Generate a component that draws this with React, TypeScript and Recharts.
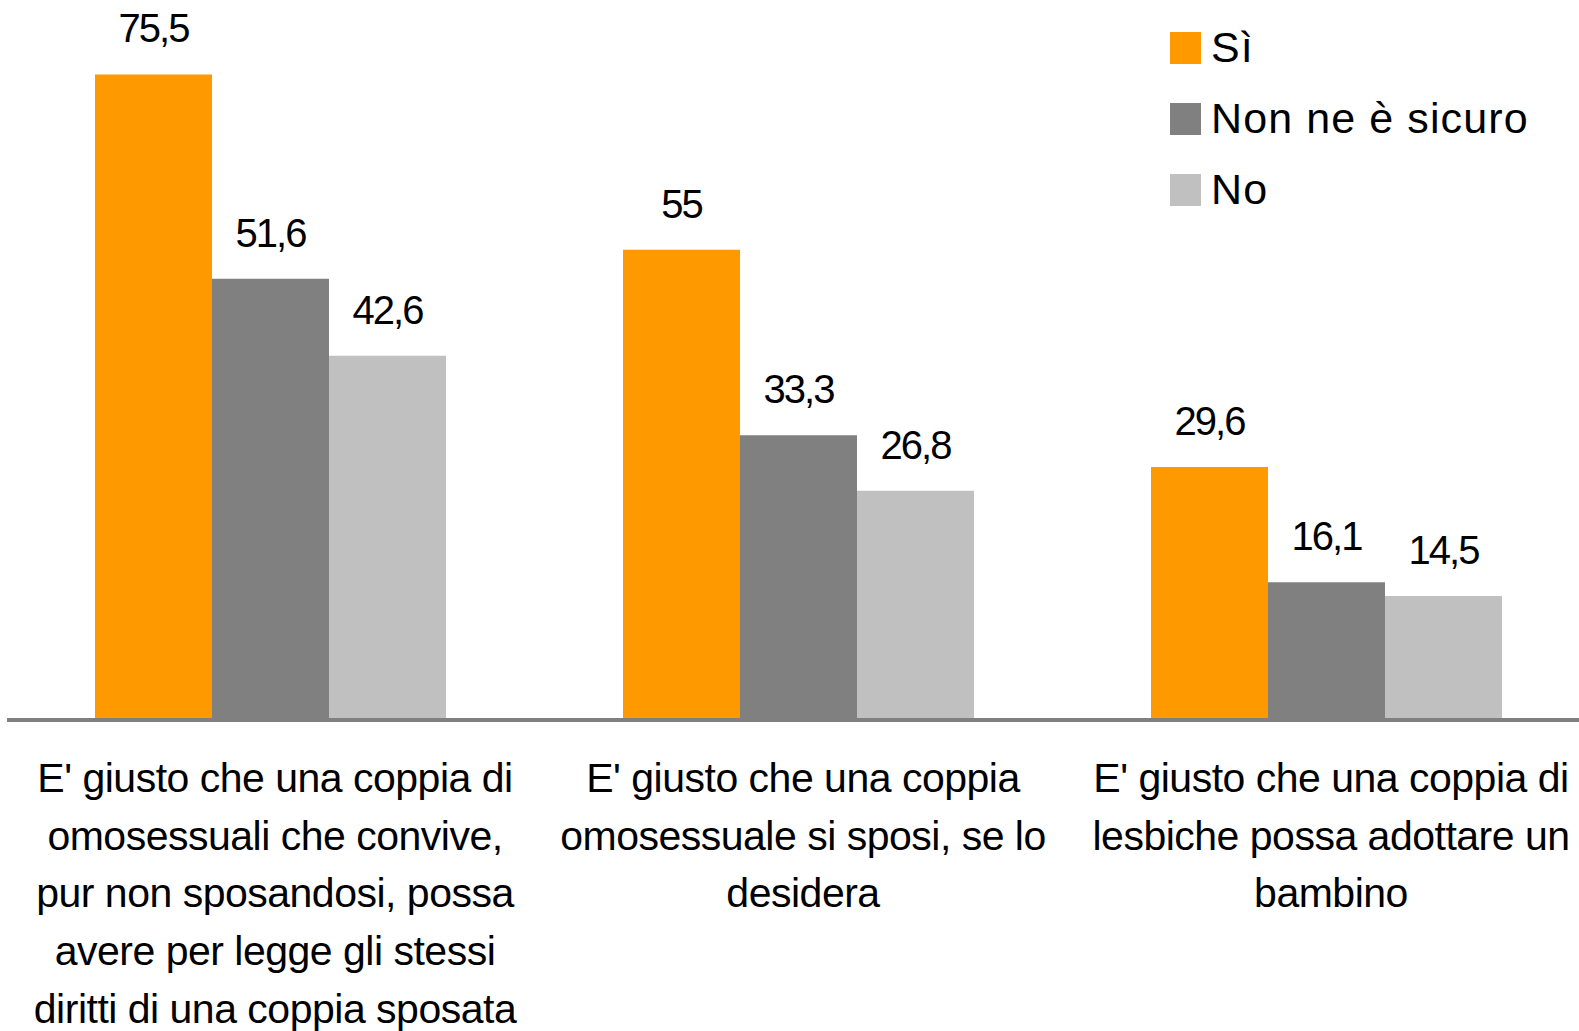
import React from 'react';
import { BarChart, Bar, XAxis, YAxis, LabelList } from 'recharts';

const categories = [
  "E' giusto che una coppia di omosessuali che convive, pur non sposandosi, possa avere per legge gli stessi diritti di una coppia sposata",
  "E' giusto che una coppia omosessuale si sposi, se lo desidera",
  "E' giusto che una coppia di lesbiche possa adottare un bambino",
];

// tick labels, already split in lines as in the original
const categoryLines = [
  ["E' giusto che una coppia di", 'omosessuali che convive,', 'pur non sposandosi, possa', 'avere per legge gli stessi', 'diritti di una coppia sposata'],
  ["E' giusto che una coppia", 'omosessuale si sposi, se lo', 'desidera'],
  ["E' giusto che una coppia di", 'lesbiche possa adottare un', 'bambino'],
];

const seriesNames = ['Sì', 'Non ne è sicuro', 'No'];
const siValues = [75.5, 55, 29.6];
const nonSicuroValues = [51.6, 33.3, 16.1];
const noValues = [42.6, 26.8, 14.5];

const colors = ['#FF9900', '#808080', '#C0C0C0'];
const FONT = '"Liberation Sans", Arial, sans-serif';

const data = categories.map((name, i) => ({
  name,
  si: siValues[i],
  nonSicuro: nonSicuroValues[i],
  no: noValues[i],
}));

const keys = ['si', 'nonSicuro', 'no'];

const fmt = (v: any) => String(v).replace('.', ',');

const CategoryTick = (props: any) => {
  const { x, index } = props;
  const lines = categoryLines[index] || [];
  const cx = x + 4;
  return (
    <text
      x={cx}
      y={792}
      textAnchor="middle"
      fill="#000"
      fontFamily={FONT}
      fontSize={41}
      letterSpacing={-0.5}
    >
      {lines.map((l, i) => (
        <tspan key={i} x={cx} y={792 + i * 57.7}>
          {l}
        </tspan>
      ))}
    </text>
  );
};

const LegendBox = () => (
  <div style={{ position: 'absolute', left: 1170, top: 12, fontFamily: FONT }}>
    {seriesNames.map((n, i) => (
      <div key={n} style={{ display: 'flex', alignItems: 'center', height: 71 }}>
        <div style={{ width: 31, height: 32, background: colors[i], marginRight: 10 }} />
        <span style={{ fontSize: 43, letterSpacing: 1.1, color: '#000', lineHeight: 1 }}>{n}</span>
      </div>
    ))}
  </div>
);

const App: React.FC = () => {
  return (
    <div style={{ position: 'fixed', left: 0, top: 0, width: 1579, height: 1031, overflow: 'hidden', background: '#fff' }}>
      <BarChart
        width={1591}
        height={1031}
        data={data}
        margin={{ top: 36, right: 0, bottom: 0, left: 7 }}
        barCategoryGap={88}
        barGap={0}
      >
        <XAxis
          dataKey="name"
          height={311}
          axisLine={{ stroke: '#808080', strokeWidth: 4 }}
          tickLine={false}
          tick={<CategoryTick />}
          interval={0}
        />
        <YAxis hide domain={[0, 80]} />
        {keys.map((k, i) => (
          <Bar key={k} dataKey={k} name={seriesNames[i]} fill={colors[i]} isAnimationActive={false}>
            <LabelList
              dataKey={k}
              position="top"
              offset={32}
              formatter={fmt}
              fill="#000"
              fontFamily={FONT}
              fontSize={40}
              letterSpacing={-2}
            />
          </Bar>
        ))}
      </BarChart>
      <LegendBox />
    </div>
  );
};

export default App;
